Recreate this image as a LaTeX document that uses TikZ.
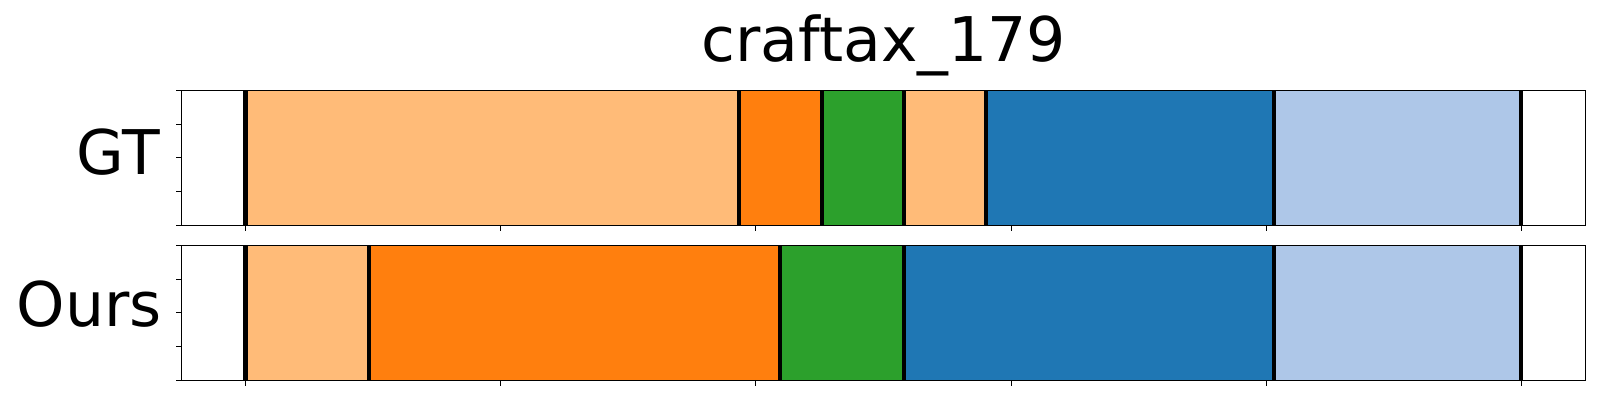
\documentclass[tikz,border=0pt]{standalone}
\usepackage{fontspec}
\setmainfont{DejaVu Sans}
\definecolor{lorange}{HTML}{FFBB78}
\definecolor{dorange}{HTML}{FF7F0E}
\definecolor{tgreen}{HTML}{2CA02C}
\definecolor{tblue}{HTML}{1F77B4}
\definecolor{lblue}{HTML}{AEC7E8}
\begin{document}
\begin{tikzpicture}[x=0.5pt,y=-0.5pt,
  bigtext/.style={inner sep=0pt,font=\fontsize{30.8}{36}\selectfont},
  boundary/.style={line width=2.2pt,black},
  spine/.style={line width=0.6pt,black},
  tickmark/.style={line width=0.5pt,black}]
\useasboundingbox (0,0) rectangle (1600,400);
% title and labels
\node[bigtext,anchor=base] (title) at (883.7,61.7) {craftax\_179};
\node[bigtext,anchor=base east] (gt) at (160,174.3) {GT};
\node[bigtext,anchor=base east] (ours) at (162,326.5) {Ours};
% GT row segments
\def\ta{90.3}\def\tb{225.3}
\fill[lorange] (245.3,\ta) rectangle (738.7,\tb);
\fill[dorange] (738.7,\ta) rectangle (822,\tb);
\fill[tgreen] (822,\ta) rectangle (904,\tb);
\fill[lorange] (904,\ta) rectangle (986,\tb);
\fill[tblue] (986,\ta) rectangle (1274,\tb);
\fill[lblue] (1274,\ta) rectangle (1521,\tb);
\foreach \x in {245.3,738.7,822,904,986,1274,1521}
  \draw[boundary] (\x,\ta) -- (\x,\tb);
% Ours row segments
\def\ba{245.3}\def\bb{380.3}
\fill[lorange] (245.3,\ba) rectangle (368.7,\bb);
\fill[dorange] (368.7,\ba) rectangle (779.7,\bb);
\fill[tgreen] (779.7,\ba) rectangle (904,\bb);
\fill[tblue] (904,\ba) rectangle (1274,\bb);
\fill[lblue] (1274,\ba) rectangle (1521,\bb);
\foreach \x in {245.3,368.7,779.7,904,1274,1521}
  \draw[boundary] (\x,\ba) -- (\x,\bb);
% frames
\draw[spine] (181.7,\ta) rectangle (1585.7,\tb);
\draw[spine] (181.7,\ba) rectangle (1585.7,\bb);
% ticks
\foreach \k in {0,...,5}{
  \draw[tickmark] (245.3+\k*255.3,\tb) -- ++(0,5.5);
  \draw[tickmark] (245.3+\k*255.3,\bb) -- ++(0,5.5);
}
\foreach \k in {0,...,4}{
  \draw[tickmark] (181.7,\ta+\k*33.75) -- ++(-5.7,0);
  \draw[tickmark] (181.7,\ba+\k*33.75) -- ++(-5.7,0);
}
\end{tikzpicture}
\end{document}
